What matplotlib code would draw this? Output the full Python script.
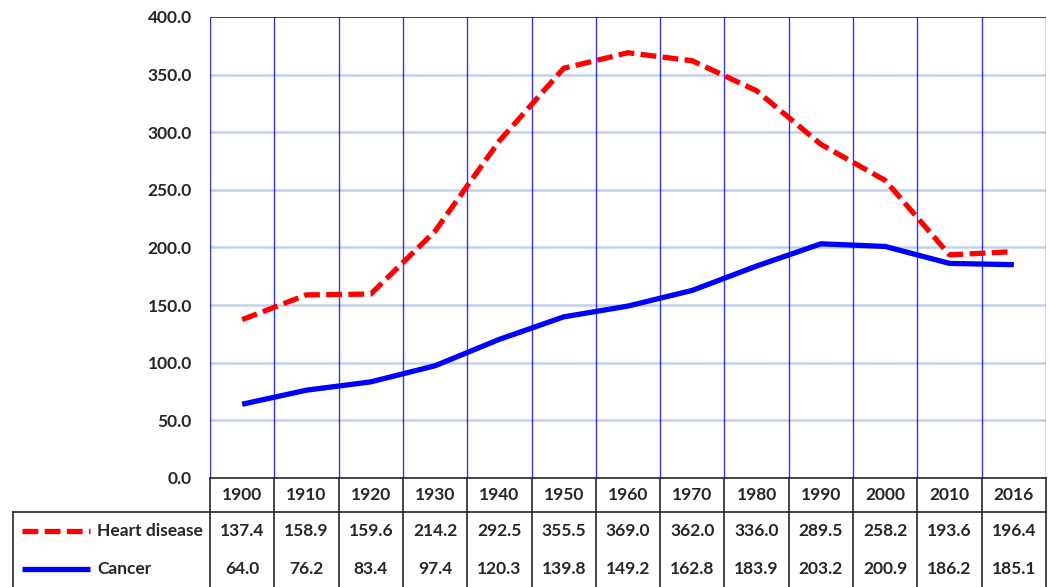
import matplotlib
matplotlib.use("Agg")
import matplotlib.pyplot as plt
from matplotlib.lines import Line2D
import matplotlib.transforms as mtransforms

years = ["1900", "1910", "1920", "1930", "1940", "1950", "1960", "1970", "1980", "1990", "2000", "2010", "2016"]
heart = [137.4, 158.9, 159.6, 214.2, 292.5, 355.5, 369.0, 362.0, 336.0, 289.5, 258.2, 193.6, 196.4]
cancer = [64.0, 76.2, 83.4, 97.4, 120.3, 139.8, 149.2, 162.8, 183.9, 203.2, 200.9, 186.2, 185.1]
series_names = ["Heart disease", "Cancer"]
yticks = [0, 50, 100, 150, 200, 250, 300, 350, 400]

W, H = 1049, 587
fig = plt.figure(figsize=(W / 100, H / 100), dpi=100)
FONT = ["Lato", "DejaVu Sans"]
fs = 12.5
tc = "#262626"

# plot area in pixels
x0, x1 = 210, 1046
y_top, y_bot = 17, 478
ax = fig.add_axes([x0 / W, 1 - y_bot / H, (x1 - x0) / W, (y_bot - y_top) / H])

n = len(years)
xs = list(range(n))
ax.set_xlim(-0.5, n - 0.5)
ax.set_ylim(0, 400)

# gridlines
for v in yticks[1:-1]:
    ax.axhline(v, color="#c3d1ec", lw=1.8, zorder=1)
for i in range(n + 1):
    ax.axvline(i - 0.5, color="#0000ff", lw=1.0, alpha=0.8, zorder=1)
ax.axhline(400, color="#0000ff", lw=1.5, alpha=0.8, zorder=1)

red_kw = dict(color="#ff0000", lw=3.8, dashes=(3, 1.2), dash_capstyle="butt", solid_joinstyle="round")
blue_kw = dict(color="#0000ff", lw=3.8, solid_capstyle="butt", solid_joinstyle="round")
ax.plot(xs, heart, zorder=3, **red_kw)
ax.plot(xs, cancer, zorder=3, **blue_kw)

for s in ax.spines.values():
    s.set_visible(False)
ax.set_xticks([])
ax.set_yticks(yticks)
ax.set_yticklabels([f"{v:.1f}" for v in yticks], fontsize=fs, fontweight="bold",
                   family=FONT, color=tc)
ax.tick_params(axis="y", length=0, pad=13)

# data table
def fy(p):
    return 1 - p / H

tleft = 13
trans = mtransforms.blended_transform_factory(ax.transData, fig.transFigure)
lc = "#262626"
fig.add_artist(Line2D([x0 / W, x1 / W], [fy(478), fy(478)], color=lc, lw=1.2, transform=fig.transFigure))
fig.add_artist(Line2D([tleft / W, x1 / W], [fy(512), fy(512)], color=lc, lw=1.2, transform=fig.transFigure))
for i in range(n + 1):
    fig.add_artist(Line2D([i - 0.5, i - 0.5], [fy(478), fy(587)], color=lc, lw=1.2, transform=trans))
fig.add_artist(Line2D([tleft / W, tleft / W], [fy(512), fy(587)], color=lc, lw=1.2, transform=fig.transFigure))

for i, yr in enumerate(years):
    fig.text(i, fy(495), yr, transform=trans, ha="center", va="center",
             fontsize=fs, fontweight="bold", family=FONT, color=tc)
    fig.text(i, fy(531), f"{heart[i]:.1f}", transform=trans, ha="center", va="center",
             fontsize=fs, fontweight="bold", family=FONT, color=tc)
    fig.text(i, fy(569), f"{cancer[i]:.1f}", transform=trans, ha="center", va="center",
             fontsize=fs, fontweight="bold", family=FONT, color=tc)

# legend keys in table
fig.add_artist(Line2D([22 / W, 90 / W], [fy(531), fy(531)], transform=fig.transFigure, **red_kw))
fig.add_artist(Line2D([22 / W, 90 / W], [fy(569), fy(569)], transform=fig.transFigure, **blue_kw))
fig.text(97 / W, fy(531), series_names[0], ha="left", va="center", fontsize=fs,
         fontweight="bold", family=FONT, color=tc)
fig.text(97 / W, fy(569), series_names[1], ha="left", va="center", fontsize=fs,
         fontweight="bold", family=FONT, color=tc)

fig.savefig("out.png", dpi=100)
